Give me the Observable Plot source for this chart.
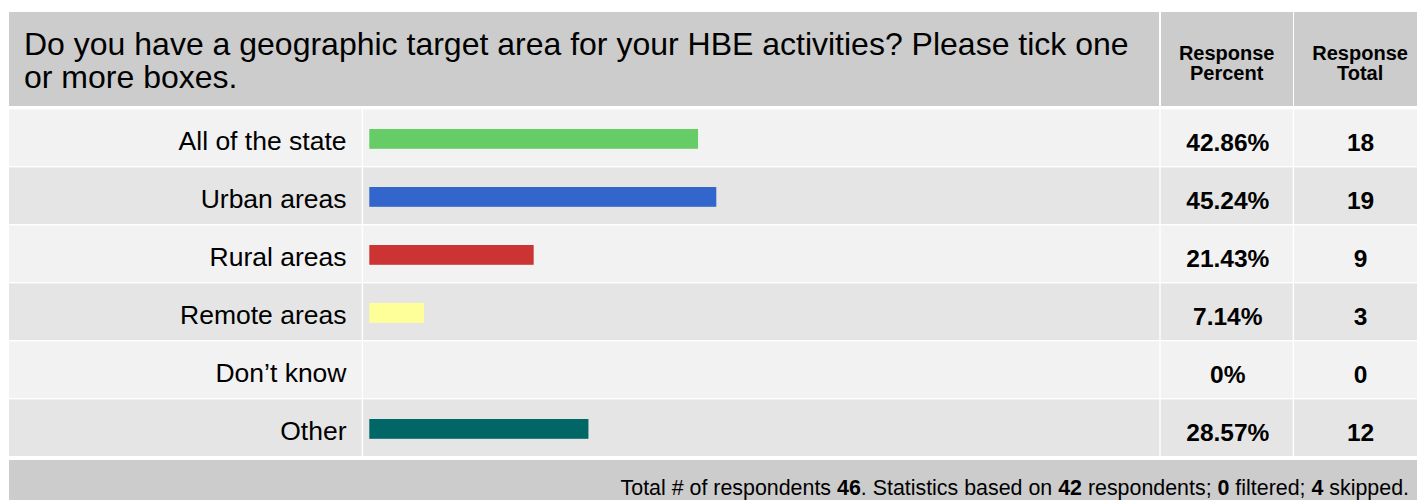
<!DOCTYPE html>
<html>
<head>
<meta charset="utf-8">
<script src="https://cdn.jsdelivr.net/npm/d3@7"></script>
<script src="https://cdn.jsdelivr.net/npm/@observablehq/plot@0.6"></script>
<style>
  html, body { margin: 0; padding: 0; background: #fff; }
  #chart {
    position: relative; width: 1417px; height: 500px; overflow: hidden;
    font-family: "Liberation Sans", Arial, Helvetica, sans-serif; color: #000;
  }
  .head { position: absolute; top: 12px; height: 94px; background: #ccc; box-sizing: border-box; overflow: hidden; }
  .question { left: 9px; width: 1150.3px; padding: 16.4px 11px 0 15px; font-size: 32px; line-height: 33px; }
  .colhead { padding-top: 31px; font-size: 20px; font-weight: bold; line-height: 20px; text-align: center; }
  #body { position: absolute; top: 106px; left: 0; }
  #body svg { display: block; }
  #body g[aria-label="response percent"] text { letter-spacing: 1.2px; }
  .foot {
    position: absolute; left: 9px; top: 459.5px; width: 1408px; height: 42px; box-sizing: border-box;
    background: #ccc; text-align: right; padding: 17.5px 8px 0 0; font-size: 21.4px; line-height: 22px;
  }
</style>
</head>
<body>
<div id="chart">
  <div class="head question" id="question"></div>
  <div class="head colhead" id="head-percent" style="left:1160.7px;width:132px;"></div>
  <div class="head colhead" id="head-total" style="left:1294.1px;width:132px;"></div>
  <div id="body"></div>
  <div class="foot" id="foot"></div>
</div>
<script>
// Survey question and its answer options
const question = "Do you have a geographic target area for your HBE activities? Please tick one or more boxes.";
const columnHeads = [["Response", "Percent"], ["Response", "Total"]];
const answers = ["All of the state", "Urban areas", "Rural areas", "Remote areas", "Don’t know", "Other"];
const percents = [42.86, 45.24, 21.43, 7.14, 0, 28.57];
const totals = [18, 19, 9, 3, 0, 12];

// Respondent summary shown in the footer
const respondentsTotal = 46;
const respondentsAnswered = 42;
const respondentsFiltered = 0;
const respondentsSkipped = 4;

// Bar colour for each answer, and the alternating row shades
const palette = ["#66cc66", "#3366cc", "#cc3333", "#ffff99", "#999999", "#006666"];
const shades = ["#f2f2f2", "#e5e5e5"];

const fmtPercent = v => v === 0 ? "0%" : v.toFixed(2) + "%";

// Header
document.getElementById("question").textContent = question;
document.getElementById("head-percent").innerHTML = columnHeads[0].join("<br>");
document.getElementById("head-total").innerHTML = columnHeads[1].join("<br>");

// Footer summary
document.getElementById("foot").innerHTML =
  `Total # of respondents <b>${respondentsTotal}</b>. Statistics based on <b>${respondentsAnswered}</b> respondents; ` +
  `<b>${respondentsFiltered}</b> filtered; <b>${respondentsSkipped}</b> skipped.`;

// Table rows for the body
const rows = answers.map((answer, i) => ({
  answer,
  percent: percents[i],
  total: totals[i],
  color: palette[i],
  shade: shades[i % 2]
}));

// Column layout of the body, in pixels
const W = 1417, H = 352;
const columns = [[9, 361.7], [363.1, 1159.3], [1160.7, 1292.7], [1294.1, 1426]];
const cellInsets = ([l, r]) => ({insetLeft: l, insetRight: Math.max(0, W - r), insetTop: 1.4});
const font = "'Liberation Sans', Arial, Helvetica, sans-serif";

const chart = Plot.plot({
  width: W,
  height: H,
  marginTop: 0, marginRight: 0, marginBottom: 0, marginLeft: 0,
  x: {domain: [0, 100], range: [369.3, 1136.3], axis: null},
  y: {domain: answers, padding: 0, axis: null},
  color: {type: "identity"},
  style: {background: "transparent", fontFamily: font, color: "#000"},
  marks: [
    // shaded table cells, one set per column
    ...columns.map(c => Plot.cell(rows, {y: "answer", fill: "shade", ...cellInsets(c)})),
    // response bars
    Plot.barX(rows, {y: "answer", x: "percent", fill: "color", insetTop: 21, insetBottom: 17.2}),
    // answer labels
    Plot.text(rows, {
      y: "answer", text: "answer", frameAnchor: "left", dx: 346, dy: 3.6,
      textAnchor: "end", fontSize: 26.5, fill: "#000"
    }),
    // response percent
    Plot.text(rows, {
      y: "answer", text: d => fmtPercent(d.percent), frameAnchor: "left", dx: 1227.3, dy: 5.5,
      textAnchor: "middle", fontSize: 24.5, fontWeight: "bold", fill: "#000", ariaLabel: "response percent"
    }),
    // response total
    Plot.text(rows, {
      y: "answer", text: d => String(d.total), frameAnchor: "left", dx: 1360, dy: 5.5,
      textAnchor: "middle", fontSize: 24.5, fontWeight: "bold", fill: "#000", ariaLabel: "response total"
    })
  ]
});
document.getElementById("body").append(chart);
</script>
</body>
</html>
